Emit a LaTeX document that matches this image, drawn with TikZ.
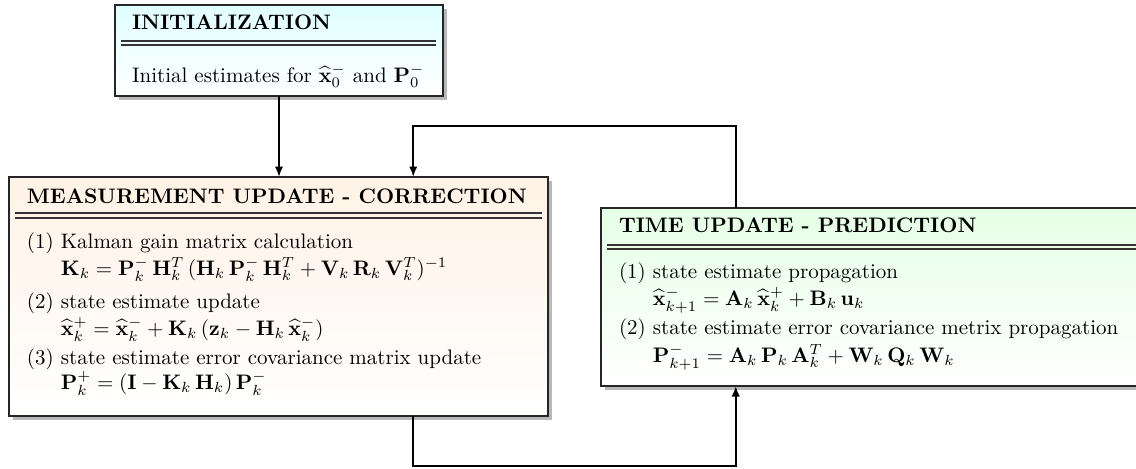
\documentclass[tikz,border=0pt]{standalone}
\usetikzlibrary{arrows.meta,shadows,calc}
\begin{document}
\begin{tikzpicture}[x=0.47619pt,y=-0.47619pt,
  box/.style={draw=black!85, line width=0.8pt, outer sep=0pt, inner sep=0pt,
    bottom color=white, drop shadow={shadow xshift=1.8pt, shadow yshift=-1.8pt, fill=black!28, opacity=1}},
  txt/.style={anchor=base west, inner sep=0pt, outer sep=0pt},
  rulel/.style={draw=black!80, line width=0.6pt},
  arr/.style={draw=black, line width=0.9pt, -{Latex[length=5pt,width=4pt]}},
  lin/.style={draw=black, line width=0.9pt}]
\useasboundingbox (0,0) rectangle (1136,468);
% boxes
\node[box, top color=cyan!12, minimum width=156.19pt, minimum height=43.33pt] (init) at (279,50.5) {};
\node[box, top color=orange!10, minimum width=256.67pt, minimum height=113.81pt] (meas) at (278.5,296.5) {};
\node[box, top color=green!10, minimum width=256.67pt, minimum height=84.76pt] (time) at (870.5,297) {};
% init text
\node[txt] (initT) at (132,29) {\textbf{INITIALIZATION}};
\draw[rulel] (121,41) -- (436,41);
\draw[rulel] (121,45) -- (436,45);
\node[txt] (initB) at (132,82) {Initial estimates for $\widehat{\mathbf{x}}_0^-$ and $\mathbf{P}_0^-$};
% measurement text
\node[txt] (measT) at (27,203) {\textbf{MEASUREMENT UPDATE - CORRECTION}};
\draw[rulel] (15,213) -- (542,213);
\draw[rulel] (15,218) -- (542,218);
\node[txt] (m1) at (27,248) {(1) Kalman gain matrix calculation};
\node[txt] (m1f) at (27,275) {\hphantom{(1) }$\mathbf{K}_k=\mathbf{P}_k^-\,\mathbf{H}_k^T\,(\mathbf{H}_k\,\mathbf{P}_k^-\,\mathbf{H}_k^T+\mathbf{V}_k\,\mathbf{R}_k\,\mathbf{V}_k^T)^{-1}$};
\node[txt] (m2) at (27,308) {(2) state estimate update};
\node[txt] (m2f) at (27,335) {\hphantom{(1) }$\widehat{\mathbf{x}}_k^+=\widehat{\mathbf{x}}_k^-+\mathbf{K}_k\,(\mathbf{z}_k-\mathbf{H}_k\,\widehat{\mathbf{x}}_k^-)$};
\node[txt] (m3) at (27,364) {(3) state estimate error covariance matrix update};
\node[txt] (m3f) at (27,389) {\hphantom{(1) }$\mathbf{P}_k^+=(\mathbf{I}-\mathbf{K}_k\,\mathbf{H}_k)\,\mathbf{P}_k^-$};
% time text
\node[txt] (timeT) at (619,232) {\textbf{TIME UPDATE - PREDICTION}};
\draw[rulel] (607,245) -- (1136,245);
\draw[rulel] (607,249) -- (1136,249);
\node[txt] (t1) at (619,278) {(1) state estimate propagation};
\node[txt] (t1f) at (619,305) {\hphantom{(1) }$\widehat{\mathbf{x}}_{k+1}^-=\mathbf{A}_k\,\widehat{\mathbf{x}}_k^+ +\mathbf{B}_k\,\mathbf{u}_k$};
\node[txt] (t2) at (619,334) {(2) state estimate error covariance metrix propagation};
\node[txt] (t2f) at (619,362) {\hphantom{(1) }$\mathbf{P}_{k+1}^-=\mathbf{A}_k\,\mathbf{P}_k\,\mathbf{A}_k^T+\mathbf{W}_k\,\mathbf{Q}_k\,\mathbf{W}_k$};
% connector points
\coordinate (mN) at ($(meas.north west)!0.75!(meas.north east)$);
\coordinate (mS) at ($(meas.south west)!0.75!(meas.south east)$);
\coordinate (tN) at ($(time.north west)!0.25!(time.north east)$);
\coordinate (tS) at ($(time.south west)!0.25!(time.south east)$);
\coordinate (ytop) at (0,126);
\coordinate (ybot) at (0,466);
% connectors
\draw[arr] (init.south) -- (init.south |- meas.north);
\draw[arr] (tN) -- (tN |- ytop) -| (mN);
\draw[arr] (mS) -- (mS |- ybot) -| (tS);
\end{tikzpicture}
\end{document}
